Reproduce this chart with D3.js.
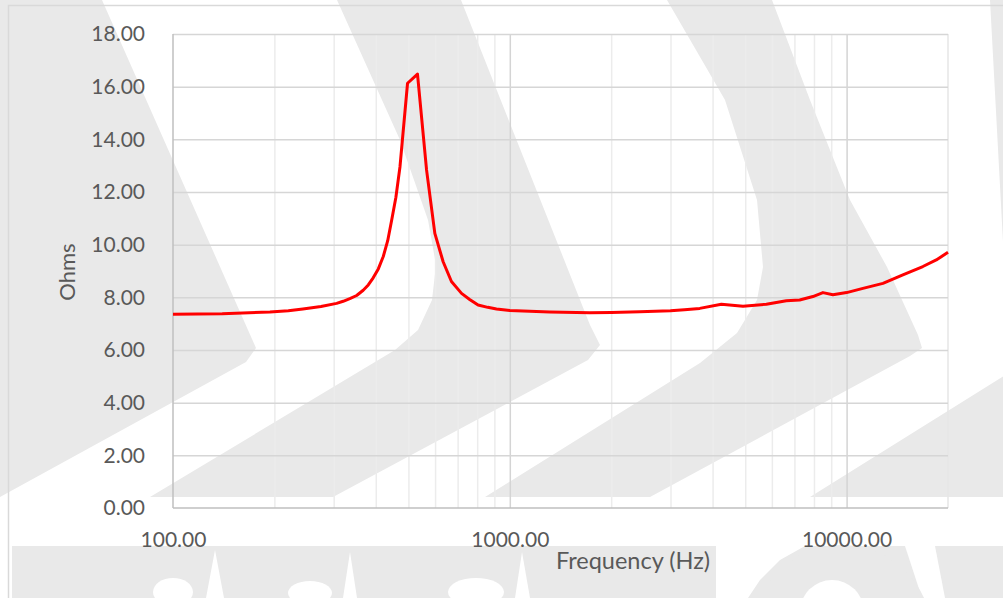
<!DOCTYPE html>
<html>
<head>
<meta charset="utf-8">
<script src="https://cdn.jsdelivr.net/npm/d3@7"></script>
<style>
  body { margin: 0; background: #fff; }
  svg { display: block; }
  text { font-family: Lato, "Liberation Sans", sans-serif; fill: #595959; }
</style>
</head>
<body>
<div id="chart"></div>
<script>
// impedance curve
var freqs = [100, 140, 194, 220, 243, 275, 306, 320, 335, 351, 367, 380, 393, 407, 421, 434, 446, 459, 472, 497, 532,
             566, 599, 634, 671, 719, 760, 805, 860, 913, 1000, 1314, 1728, 2000, 2431, 3000, 3300, 3663, 4248, 4925,
             5777, 6622, 7254, 7943, 8507, 9106, 10000, 11180, 12820, 14690, 16840, 18460, 20000];
var ohms = [7.36, 7.38, 7.44, 7.49, 7.56, 7.65, 7.77, 7.85, 7.95, 8.07, 8.27, 8.47, 8.74, 9.08, 9.55, 10.15, 10.94, 11.8, 12.96, 16.13, 16.48,
            12.84, 10.43, 9.35, 8.6, 8.15, 7.92, 7.71, 7.62, 7.56, 7.5, 7.44, 7.41, 7.42, 7.45, 7.49, 7.53, 7.58, 7.74, 7.66,
            7.74, 7.87, 7.9, 8.03, 8.18, 8.1, 8.18, 8.34, 8.53, 8.85, 9.17, 9.42, 9.71];

var yTicks = [0, 2, 4, 6, 8, 10, 12, 14, 16, 18];
var xLabelTicks = [100, 1000, 10000];
var xMinorTicks = [200, 300, 400, 500, 600, 700, 800, 900,
                   2000, 3000, 4000, 5000, 6000, 7000, 8000, 9000];
var xTitle = "Frequency (Hz)";
var yTitle = "Ohms";

// background watermark of the source page (decoration only, page pixels)
var watermark = [
  [[-10,0],[102,0],[248,330],[256,348],[246,362],[0,497],[-10,497]],
  [[337,0],[461,0],[590,325],[600,345],[588,360],[333,497],[150,497],
   [395,350],[418,330],[432,300],[436,265],[428,220],[400,140]],
  [[667,0],[772,0],[810,100],[850,200],[887,267],[918,335],[922,348],[910,356],[650,497],[485,497],
   [700,363],[737,333],[757,300],[763,267],[757,200],[725,100]],
  [[990,0],[1010,0],[1010,497],[810,497],[1010,372]],
  [[12,546],[1010,546],[1010,610],[12,610]]
];
var watermarkHoles = [
  [[206,598],[215,550],[224,598]],
  [[343,598],[350,552],[357,598]],
  [[515,598],[522,552],[530,598]],
  [[716,546],[805,546],[780,560],[760,580],[748,598],[716,598]],
  [[905,546],[935,546],[945,598],[922,598]]
];

var width = 1003, height = 598;
var margin = {top: 34, left: 173, right: 55, bottom: 90};
var w = width - margin.left - margin.right;
var h = height - margin.top - margin.bottom;

var svg = d3.select('#chart')
    .append('svg')
    .attr('width', width)
    .attr('height', height);

///////////////////// watermark /////////////////////
var wm = svg.append('g').attr('class', 'watermark');
wm.selectAll('.wm')
    .data(watermark)
    .enter()
    .append('path')
    .attr('class', 'wm')
    .attr('d', function(d) { return 'M' + d.join('L') + 'Z'; })
    .attr('fill', '#e9e9e9');
wm.selectAll('.wmh')
    .data(watermarkHoles)
    .enter()
    .append('path')
    .attr('class', 'wmh')
    .attr('d', function(d) { return 'M' + d.join('L') + 'Z'; })
    .attr('fill', '#fff');
// letter shapes along the bottom
wm.append('circle').attr('cx', 842).attr('cy', 635).attr('r', 90).attr('fill', '#e9e9e9');
wm.append('circle').attr('cx', 832).attr('cy', 612).attr('r', 32).attr('fill', '#fff');
wm.append('ellipse').attr('cx', 173).attr('cy', 592).attr('rx', 20).attr('ry', 14).attr('fill', '#fff');
wm.append('ellipse').attr('cx', 310).attr('cy', 593).attr('rx', 22).attr('ry', 12).attr('fill', '#fff');
wm.append('ellipse').attr('cx', 476).attr('cy', 592).attr('rx', 28).attr('ry', 14).attr('fill', '#fff');

// chart frame
svg.append('rect')
    .attr('x', 8.5).attr('y', 5.5)
    .attr('width', 1010).attr('height', 610)
    .attr('fill', 'none')
    .attr('stroke', '#d9d9d9')
    .attr('stroke-width', 1.5);

var g = svg.append('g')
    .attr('transform', 'translate(' + margin.left + ',' + margin.top + ')');

var x = d3.scaleLog()
    .domain([100, 20000])
    .range([0, w]);

var y = d3.scaleLinear()
    .domain([0, 18])
    .range([h, 0]);

///////////////////// grid /////////////////////
g.append('g')
    .attr('class', 'x_minor')
    .attr('transform', 'translate(0,' + h + ')')
    .call(d3.axisBottom(x).tickValues(xMinorTicks).tickSize(-h).tickFormat(''))
    .call(function(s) { s.select('.domain').remove(); })
    .selectAll('line')
    .attr('stroke', '#ececec')
    .attr('stroke-width', 1.5);

g.append('g')
    .attr('class', 'x_major')
    .attr('transform', 'translate(0,' + h + ')')
    .call(d3.axisBottom(x).tickValues([1000, 10000]).tickSize(-h).tickFormat(''))
    .call(function(s) { s.select('.domain').remove(); })
    .selectAll('line')
    .attr('stroke', '#d4d4d4')
    .attr('stroke-width', 1.5);

g.append('line')
    .attr('x1', x(20000)).attr('x2', x(20000))
    .attr('y1', 0).attr('y2', h)
    .attr('stroke', '#e6e6e6')
    .attr('stroke-width', 1.5);

g.append('g')
    .attr('class', 'y_grid')
    .call(d3.axisLeft(y).tickValues(yTicks.slice(1)).tickSize(-w).tickFormat(''))
    .call(function(s) { s.select('.domain').remove(); })
    .selectAll('line')
    .attr('stroke', '#d6d6d6')
    .attr('stroke-width', 1.5);

// axis lines
g.append('line')
    .attr('x1', 0).attr('x2', w).attr('y1', h).attr('y2', h)
    .attr('stroke', '#bfbfbf').attr('stroke-width', 1.5);
g.append('line')
    .attr('x1', 0).attr('x2', 0).attr('y1', 0).attr('y2', h)
    .attr('stroke', '#bfbfbf').attr('stroke-width', 1.5);

///////////////////// axes labels /////////////////////
var yAxis = g.append('g')
    .attr('class', 'y_axis')
    .call(d3.axisLeft(y).tickValues(yTicks).tickSize(0).tickPadding(28).tickFormat(d3.format('.2f')));
yAxis.select('.domain').remove();
yAxis.selectAll('text')
    .attr('font-size', 21)
    .attr('font-family', 'Lato, "Liberation Sans", sans-serif')
    .attr('fill', '#595959');

var xAxis = g.append('g')
    .attr('class', 'x_axis')
    .attr('transform', 'translate(0,' + h + ')')
    .call(d3.axisBottom(x).tickValues(xLabelTicks).tickSize(0).tickPadding(24).tickFormat(d3.format('.2f')));
xAxis.select('.domain').remove();
xAxis.selectAll('text')
    .attr('font-size', 21)
    .attr('font-family', 'Lato, "Liberation Sans", sans-serif')
    .attr('fill', '#595959');

svg.append('text')
    .attr('x', 633)
    .attr('y', 569)
    .attr('text-anchor', 'middle')
    .attr('font-size', 23.5)
    .text(xTitle);

svg.append('text')
    .attr('transform', 'translate(75,272) rotate(-90)')
    .attr('text-anchor', 'middle')
    .attr('font-size', 22)
    .text(yTitle);

///////////////////// curve /////////////////////
var data = freqs.map(function(f, i) { return {f: f, v: ohms[i]}; });

var line = d3.line()
    .x(function(d) { return x(d.f); })
    .y(function(d) { return y(d.v); });

g.append('path')
    .datum(data)
    .attr('d', line)
    .attr('fill', 'none')
    .attr('stroke', '#ff0000')
    .attr('stroke-width', 3)
    .attr('stroke-linejoin', 'round');
</script>
</body>
</html>
